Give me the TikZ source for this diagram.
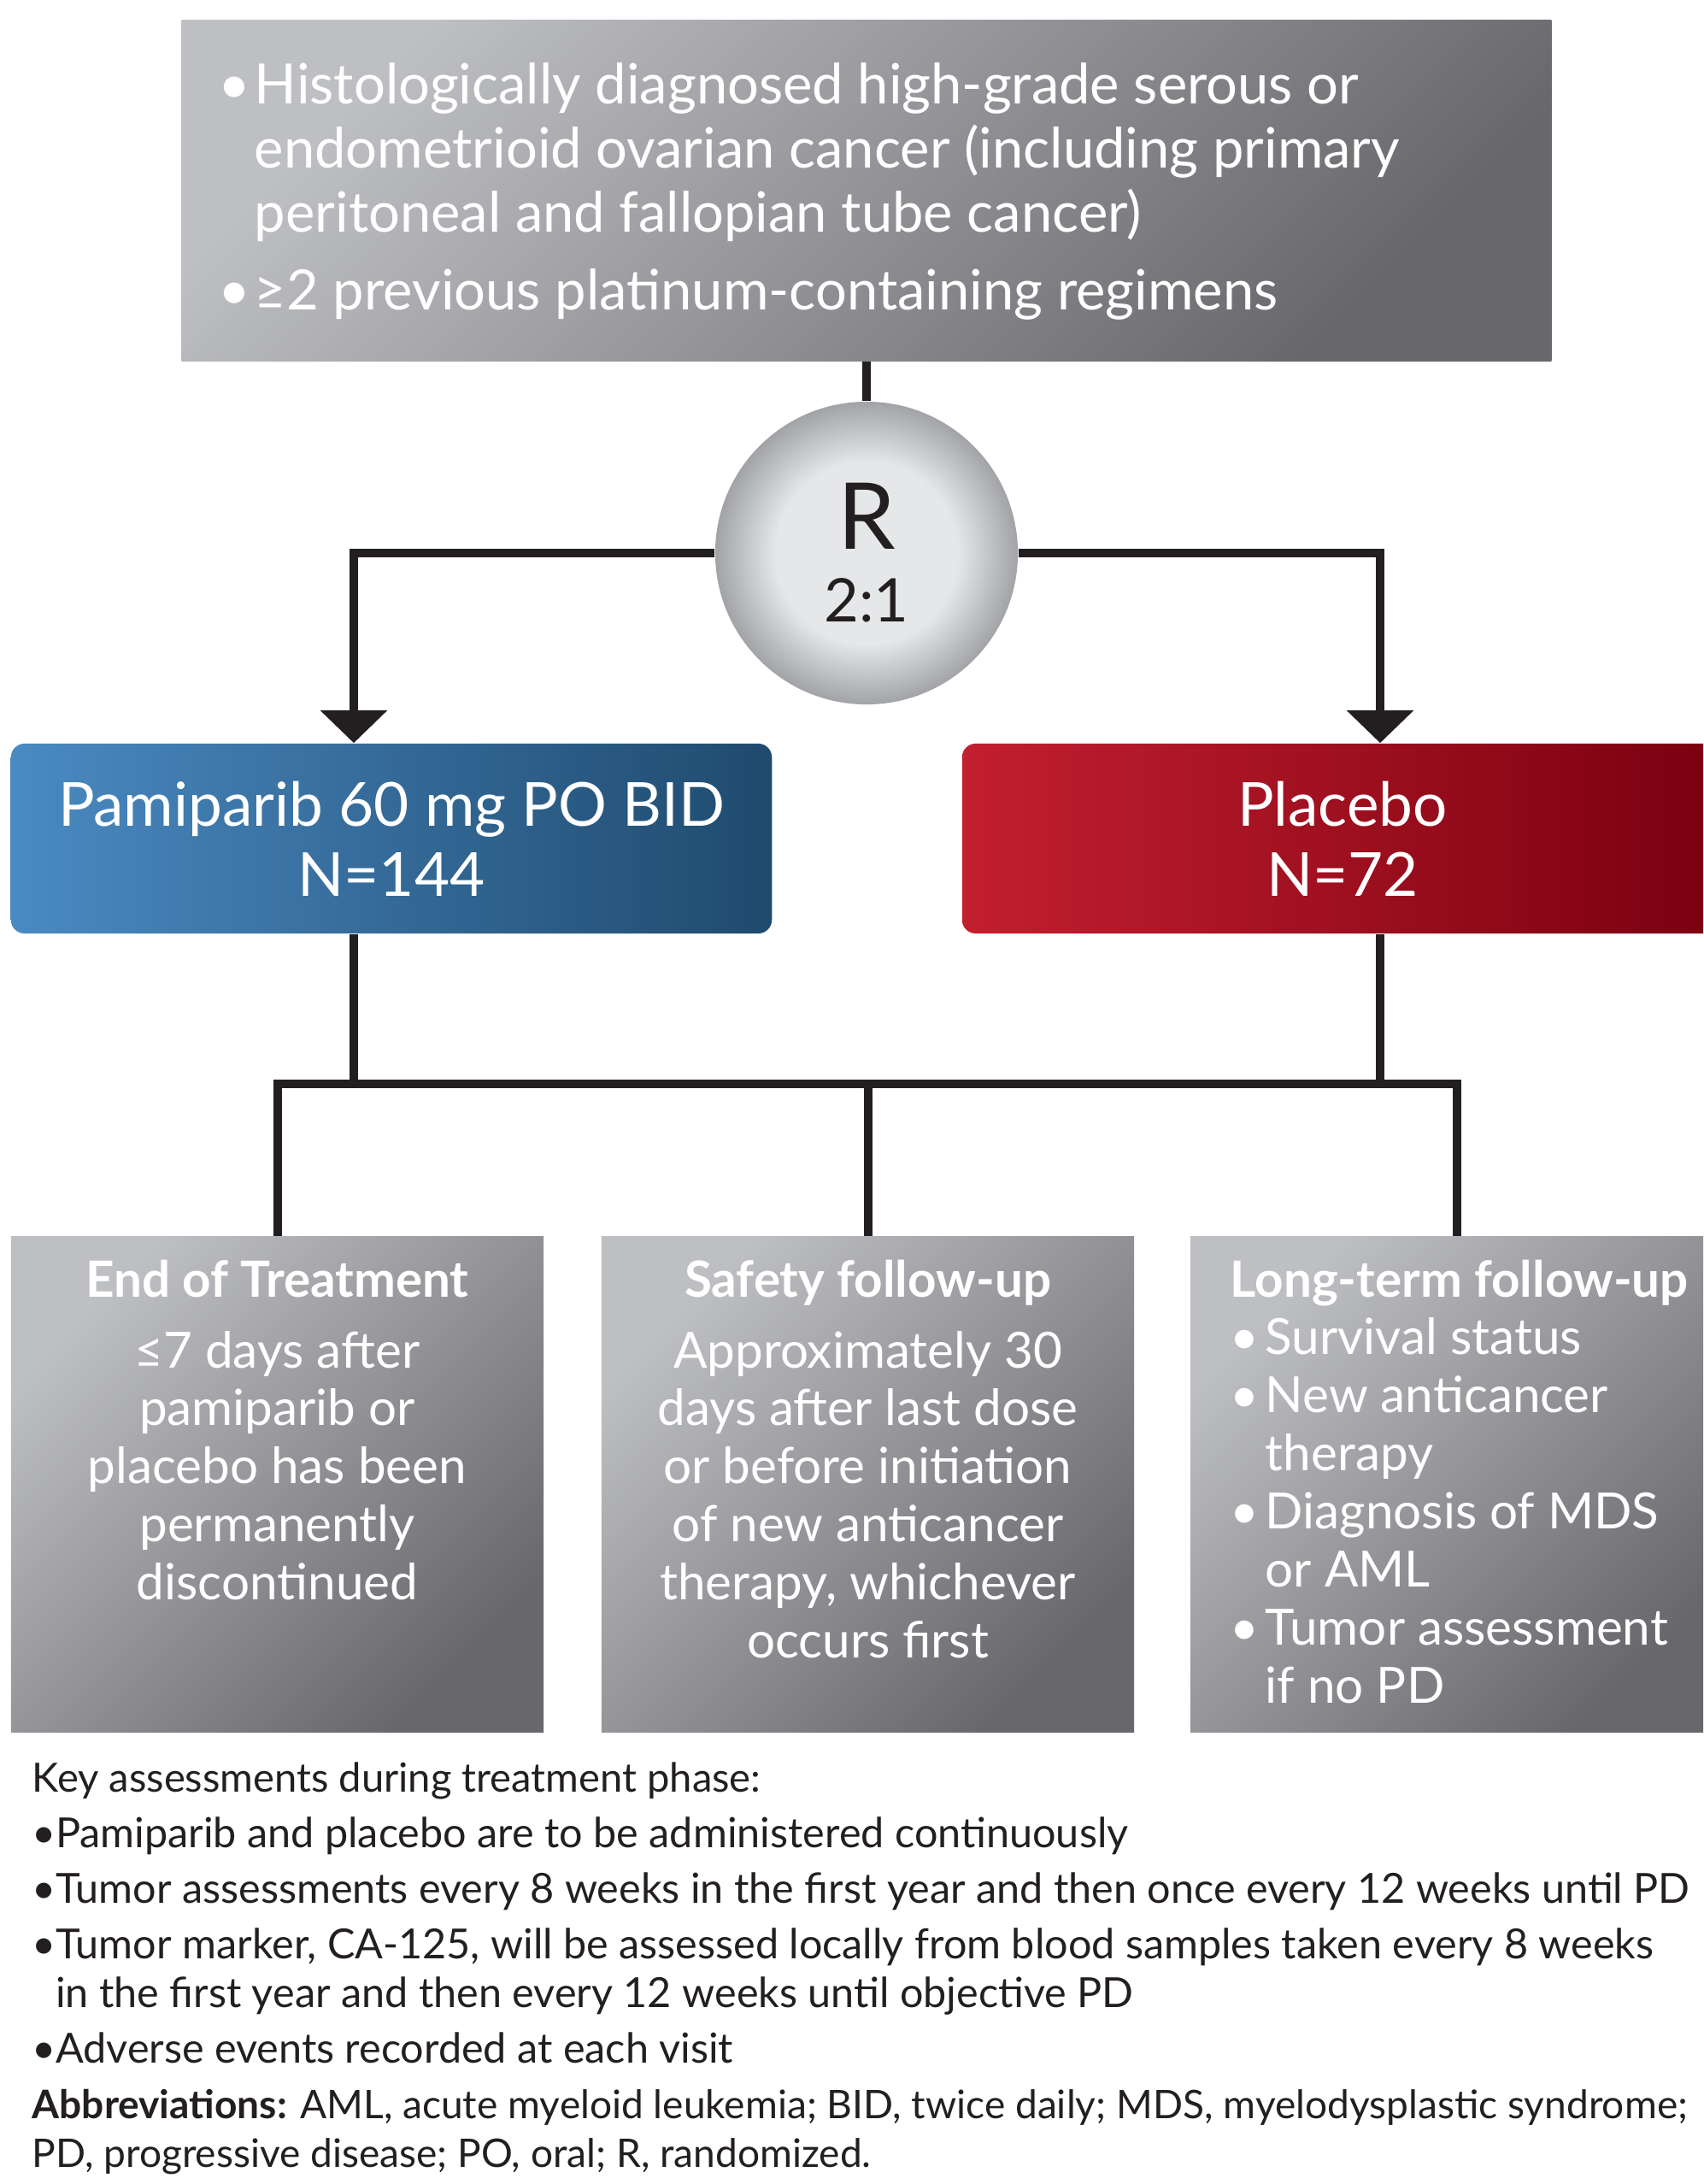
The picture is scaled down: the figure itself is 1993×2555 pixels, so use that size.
\documentclass[tikz,border=0pt]{standalone}
\usepackage{fontspec}
\setmainfont{Lato}
\usepackage{tikz}
\usetikzlibrary{arrows.meta,positioning,calc}
\definecolor{ink}{HTML}{231F20}
\definecolor{greyA}{HTML}{BEBFC2}
\definecolor{greyB}{HTML}{68686C}
\definecolor{ballIn}{HTML}{E6E7E9}
\definecolor{ballOut}{HTML}{A2A3A6}
\definecolor{blueA}{HTML}{4A8AC2}
\definecolor{blueB}{HTML}{1F4A6E}
\definecolor{redA}{HTML}{C21F2F}
\definecolor{redB}{HTML}{7A0010}
\pgfdeclareradialshading{ball}{\pgfpoint{0bp}{0bp}}{color(0bp)=(ballIn); color(15bp)=(ballIn); color(25bp)=(ballOut); color(50bp)=(ballOut)}
\newcommand{\bul}[1]{\makebox[#1][l]{\textbullet}}
\newcommand{\skipb}[1]{\hspace*{#1}}
\tikzset{
  conn/.style={draw=ink, line width=0.1cm},
  arr/.style={conn, -{Triangle[length=0.38cm, width=0.76cm]}},
  greybox/.style={top color=greyA, bottom color=greyB, shading angle=45, inner sep=0pt},
  stagebox/.style={greybox, minimum width=6.23cm, minimum height=5.79cm},
  ballnode/.style={circle, shading=ball, minimum size=3.54cm, inner sep=0pt, text=ink, align=center,
    font=\fontsize{20}{24.2}\selectfont},
  armbox/.style={rounded corners=0.16cm, minimum width=8.9cm, minimum height=2.22cm, text=white,
    align=center, font=\fontsize{20.2}{23.3}\selectfont},
  boxtxt/.style={text=white, inner sep=0pt, font=\fontsize{16.6}{19.3}\selectfont},
  toptxt/.style={text=white, inner sep=0pt, align=left, font=\fontsize{18.5}{21.3}\selectfont},
  foot/.style={text=ink, inner sep=0pt, align=left, font=\fontsize{13.8}{16.2}\selectfont}
}
\begin{document}
\begin{tikzpicture}[x=0.01cm, y=-0.01cm]
  \useasboundingbox (0,0) rectangle (1993,2555);
  \clip (0,0) rectangle (1993,2555);

  % eligibility
  \node[greybox, minimum width=16.02cm, minimum height=3.98cm] (incl) at (1014,223) {};
  \node[toptxt, anchor=north west] (inclT) at (255,73)
    {\bul{12pt}Histologically diagnosed high-grade serous or\\
     \skipb{12pt}endometrioid ovarian cancer (including primary\\
     \skipb{12pt}peritoneal and fallopian tube cancer)\\[4.6pt]
     \bul{12pt}≥2 previous platinum-containing regimens};

  % randomisation
  \node[ballnode] (rand) at (1014,647) {{\fontsize{30.7}{24.2}\selectfont R}\\2:1};
  \draw[conn] (incl.south) -- (rand.north);

  % arms
  \node[armbox, left color=blueA, right color=blueB] (arm1) at (458,981) {Pamiparib 60 mg PO BID\\N=144};
  \node[armbox, left color=redA, right color=redB] (arm2) at (1571,981) {Placebo\\N=72};
  \draw[arr] (rand.west) -| ([xshift=-0.44cm]arm1.north);
  \draw[arr] (rand.east) -| ([xshift=0.44cm]arm2.north);

  % follow-up stages
  \node[stagebox] (eot) at (324.5,1736.5) {};
  \node[stagebox] (sfu) at (1015.5,1736.5) {};
  \node[stagebox] (ltf) at (1704.5,1736.5) {};

  \coordinate (bus) at (1014,1268);
  \draw[conn] ([xshift=-0.44cm]arm1.south) -- ([xshift=-0.44cm]arm1.south |- bus);
  \draw[conn] ([xshift=0.44cm]arm2.south) -- ([xshift=0.44cm]arm2.south |- bus);
  \draw[conn] (eot.north) -- (eot.north |- bus) -- (ltf.north |- bus) -- (ltf.north);
  \draw[conn] (sfu.north |- bus) -- (sfu.north);

  \node[boxtxt, align=center, anchor=north] (eotT) at (324.5,1473)
    {{\bfseries End of Treatment}\\[4.3pt]
     ≤7 days after\\ pamiparib or\\ placebo has been\\ permanently\\ discontinued};
  \node[boxtxt, align=center, anchor=north] (sfuT) at (1015.5,1473)
    {{\bfseries Safety follow-up}\\[4.3pt]
     Approximately 30\\ days after last dose\\ or before initiation\\ of new anticancer\\
     therapy, whichever\\ occurs first};
  \node[boxtxt, align=left, anchor=north west] (ltfT) at (1439,1473)
    {{\bfseries Long-term follow-up}\\
     \bul{11.7pt}Survival status\\
     \bul{11.7pt}New anticancer\\ \skipb{11.7pt}therapy\\
     \bul{11.7pt}Diagnosis of MDS\\ \skipb{11.7pt}or AML\\
     \bul{11.7pt}Tumor assessment\\ \skipb{11.7pt}if no PD};

  % notes
  \node[foot, anchor=north west] (notes) at (37,2061)
    {{\fontsize{13.4}{16.2}\selectfont Key assessments during treatment phase:}\\[2.3pt]
     \bul{7.8pt}Pamiparib and placebo are to be administered continuously\\[2.3pt]
     \bul{7.8pt}Tumor assessments every 8 weeks in the first year and then once every 12 weeks until PD\\[2.3pt]
     \bul{7.8pt}Tumor marker, CA-125, will be assessed locally from blood samples taken every 8 weeks\\
     \skipb{7.8pt}in the first year and then every 12 weeks until objective PD\\[2.3pt]
     \bul{7.8pt}Adverse events recorded at each visit\\[2.3pt]
     {\fontsize{13.1}{16.2}\selectfont\textbf{Abbreviations:} AML, acute myeloid leukemia; BID, twice daily; MDS, myelodysplastic syndrome;}\\
     {\fontsize{13.1}{16.2}\selectfont PD, progressive disease; PO, oral; R, randomized.}};
\end{tikzpicture}
\end{document}
